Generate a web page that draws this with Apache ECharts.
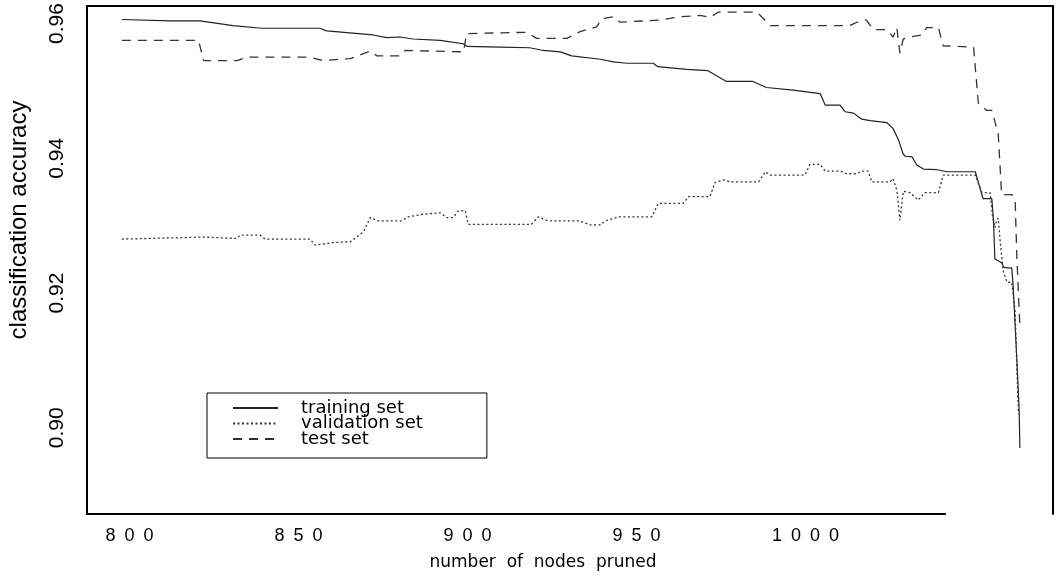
<!DOCTYPE html>
<html>
<head>
<meta charset="utf-8">
<script src="https://cdn.jsdelivr.net/npm/echarts@6/dist/echarts.min.js"></script>
<style>
html,body{margin:0;padding:0;background:#fff;}
#chart{width:1057px;height:576px;}
</style>
</head>
<body>
<div id="chart"></div>
<script>
// ---- data ----
const seriesNames = ['training set', 'validation set', 'test set'];

const trainNodes = [797.7, 812.0, 820.8, 830.6, 839.1, 856.3, 858.3, 872.0, 876.1, 880.0, 883.9, 891.9, 898.7, 899.9, 909.6, 918.4, 922.3, 927.4, 930.8, 939.3, 943.1, 947.1, 954.9, 956.3, 964.8, 971.1, 976.6, 984.4, 988.4, 996.3, 1004.3, 1005.8, 1010.2, 1011.7, 1014.2, 1016.6, 1019.1, 1024.0, 1025.9, 1027.5, 1028.9, 1029.5, 1031.5, 1032.9, 1034.9, 1038.9, 1041.8, 1050.2, 1052.5, 1055.1, 1055.6, 1056.0, 1058.0, 1058.7, 1061.0, 1061.4, 1062.5, 1063.2, 1063.4];
const trainAcc = [0.9606, 0.9604, 0.9604, 0.9597, 0.9593, 0.9593, 0.9589, 0.9583, 0.9579, 0.9580, 0.9577, 0.9575, 0.9570, 0.9566, 0.9565, 0.9564, 0.9560, 0.9558, 0.9552, 0.9547, 0.9543, 0.9541, 0.9541, 0.9536, 0.9532, 0.9530, 0.9514, 0.9514, 0.9505, 0.9501, 0.9496, 0.9479, 0.9479, 0.9469, 0.9467, 0.9458, 0.9456, 0.9453, 0.9444, 0.9427, 0.9406, 0.9403, 0.9402, 0.9390, 0.9384, 0.9383, 0.9380, 0.9380, 0.9340, 0.9340, 0.9308, 0.9251, 0.9245, 0.9238, 0.9237, 0.9211, 0.9102, 0.9025, 0.8970];

const valNodes = [797.7, 821.9, 831.8, 832.7, 838.6, 840.1, 853.4, 854.9, 860.3, 865.3, 869.2, 871.2, 873.6, 880.4, 882.4, 886.9, 891.9, 893.9, 895.7, 897.3, 899.3, 900.2, 918.9, 920.9, 923.8, 933.3, 936.2, 939.3, 940.7, 944.7, 954.5, 956.4, 963.8, 965.4, 971.7, 973.2, 975.7, 977.7, 986.1, 988.1, 989.5, 999.8, 1001.3, 1004.3, 1005.8, 1010.2, 1012.2, 1015.1, 1016.6, 1018.5, 1019.6, 1025.0, 1025.8, 1027.0, 1027.9, 1028.9, 1030.9, 1033.3, 1035.3, 1039.3, 1040.7, 1050.2, 1052.2, 1054.6, 1055.3, 1056.0, 1056.5, 1057.0, 1057.6, 1058.5, 1059.6, 1061.0, 1062.0, 1062.5, 1063.0];
const valAcc = [0.9280, 0.9283, 0.9281, 0.9286, 0.9286, 0.9280, 0.9280, 0.9271, 0.9275, 0.9276, 0.9291, 0.9312, 0.9307, 0.9307, 0.9313, 0.9317, 0.9319, 0.9312, 0.9312, 0.9322, 0.9322, 0.9302, 0.9302, 0.9313, 0.9307, 0.9307, 0.9301, 0.9301, 0.9307, 0.9313, 0.9313, 0.9333, 0.9333, 0.9343, 0.9343, 0.9364, 0.9368, 0.9365, 0.9365, 0.9380, 0.9375, 0.9375, 0.9391, 0.9391, 0.9381, 0.9381, 0.9377, 0.9377, 0.9381, 0.9381, 0.9365, 0.9365, 0.9370, 0.9353, 0.9308, 0.9351, 0.9349, 0.9338, 0.9349, 0.9349, 0.9375, 0.9375, 0.9349, 0.9349, 0.9314, 0.9297, 0.9308, 0.9311, 0.9275, 0.9232, 0.9216, 0.9216, 0.9172, 0.9090, 0.9020];

const testNodes = [797.7, 820.4, 821.9, 831.8, 834.7, 853.4, 857.3, 865.3, 871.2, 873.2, 880.0, 881.5, 898.8, 899.7, 917.5, 920.4, 929.4, 933.3, 938.2, 939.7, 943.1, 945.1, 956.9, 962.9, 968.8, 971.7, 974.2, 985.6, 989.5, 1013.1, 1016.6, 1018.0, 1020.0, 1024.0, 1025.9, 1027.0, 1027.9, 1028.9, 1030.9, 1034.4, 1035.8, 1039.3, 1040.7, 1049.7, 1051.1, 1053.6, 1055.1, 1057.0, 1058.0, 1061.0, 1062.0, 1062.5, 1063.4];
const testAcc = [0.9575, 0.9575, 0.9545, 0.9545, 0.9550, 0.9550, 0.9545, 0.9548, 0.9559, 0.9552, 0.9552, 0.9560, 0.9558, 0.9585, 0.9587, 0.9578, 0.9578, 0.9588, 0.9595, 0.9607, 0.9610, 0.9602, 0.9605, 0.9610, 0.9612, 0.9609, 0.9617, 0.9617, 0.9597, 0.9597, 0.9605, 0.9605, 0.9591, 0.9591, 0.9580, 0.9594, 0.9556, 0.9577, 0.9580, 0.9583, 0.9594, 0.9594, 0.9567, 0.9565, 0.9482, 0.9471, 0.9471, 0.9436, 0.9346, 0.9346, 0.9338, 0.9254, 0.9150];

const xTickValues = [800, 850, 900, 950, 1000];
const yTickValues = [0.90, 0.92, 0.94, 0.96];

// axis extents
const X_MIN = 787.4, X_MAX = 1073.2;
const Y_MIN = 0.8872, Y_MAX = 0.9626;
const X_AXIS_LINE_END = 1041.5; // bottom axis line stops here

function zip(xs, ys) {
  const n = Math.min(xs.length, ys.length);
  const out = [];
  for (let i = 0; i < n; i++) out.push([xs[i], ys[i]]);
  return out;
}

const chart = echarts.init(document.getElementById('chart'), null, {renderer: 'canvas'});

const frameLine = {show: true, lineStyle: {color: '#000', width: 2}};
const noTick = {show: false};
const noSplit = {show: false};
const clear = 'rgba(0,0,0,0)';

const option = {
  animation: false,
  backgroundColor: '#fff',
  grid: {left: 87, top: 6, right: 4, bottom: 62, containLabel: false, outerBoundsMode: 'none'},
  legend: {
    left: 207, top: 393,
    orient: 'vertical',
    data: seriesNames,
    borderColor: '#000', borderWidth: 1,
    padding: [6, 64, 10, 25],
    itemWidth: 45, itemHeight: 14, itemGap: -2.5,
    itemStyle: {color: clear, borderColor: clear, borderWidth: 0, opacity: 0},
    textStyle: {fontSize: 18, fontFamily: 'DejaVu Sans', color: '#000', lineHeight: 15, padding: [0, 0, 0, 18]}
  },
  xAxis: [
    {
      type: 'value', min: X_MIN, max: X_MAX, position: 'bottom',
      axisLine: {show: false}, axisTick: noTick, splitLine: noSplit,
      axisLabel: {
        customValues: xTickValues,
        formatter: v => String(v).split('').join('\u2002'),
        fontSize: 18, fontFamily: 'Liberation Sans', color: '#000', margin: 13
      },
      name: 'number  of  nodes  pruned', nameLocation: 'middle', nameGap: 40,
      nameTextStyle: {fontSize: 17, fontFamily: 'DejaVu Sans', color: '#000', padding: [0, 54, 0, 0]}
    },
    {
      type: 'value', min: X_MIN, max: X_MAX, position: 'top',
      axisLine: frameLine, axisTick: noTick, axisLabel: {show: false}, splitLine: noSplit
    }
  ],
  yAxis: [
    {
      type: 'value', min: Y_MIN, max: Y_MAX, position: 'left',
      axisLine: frameLine, axisTick: noTick, splitLine: noSplit,
      axisLabel: {
        customValues: yTickValues,
        rotate: 90,
        formatter: v => v.toFixed(2),
        fontSize: 21, fontFamily: 'Liberation Sans', color: '#000', margin: 19
      },
      name: 'classification accuracy', nameLocation: 'middle', nameGap: 56, nameRotate: 90,
      nameTextStyle: {fontSize: 24, fontFamily: 'Liberation Sans', color: '#000', padding: [0, 0, 0, 80]}
    },
    {
      type: 'value', min: Y_MIN, max: Y_MAX, position: 'right',
      axisLine: frameLine, axisTick: noTick, axisLabel: {show: false}, splitLine: noSplit
    }
  ],
  series: [
    {
      name: seriesNames[0], type: 'line', xAxisIndex: 0, yAxisIndex: 0,
      data: zip(trainNodes, trainAcc), symbol: 'none', showSymbol: false,
      lineStyle: {color: '#222', width: 1.2, type: 'solid'}, itemStyle: {color: '#222'}
    },
    {
      name: seriesNames[1], type: 'line', xAxisIndex: 0, yAxisIndex: 0,
      data: zip(valNodes, valAcc), symbol: 'none', showSymbol: false,
      lineStyle: {color: '#333', width: 1.3, type: [2, 2.5]}, itemStyle: {color: '#333'}
    },
    {
      name: seriesNames[2], type: 'line', xAxisIndex: 0, yAxisIndex: 0,
      data: zip(testNodes, testAcc), symbol: 'none', showSymbol: false,
      lineStyle: {color: '#333', width: 1.3, type: [9, 7]}, itemStyle: {color: '#333'}
    }
  ]
};

chart.setOption(option);

// partial bottom axis line (frame), positioned through the axis scales
const p0 = chart.convertToPixel({xAxisIndex: 0, yAxisIndex: 0}, [X_MIN, Y_MIN]);
const p1 = chart.convertToPixel({xAxisIndex: 0, yAxisIndex: 0}, [X_AXIS_LINE_END, Y_MIN]);
chart.setOption({
  graphic: [{
    type: 'line', silent: true,
    shape: {x1: p0[0] - 1, y1: p0[1], x2: p1[0], y2: p1[1]},
    style: {stroke: '#000', lineWidth: 2}
  }]
});
</script>
</body>
</html>
